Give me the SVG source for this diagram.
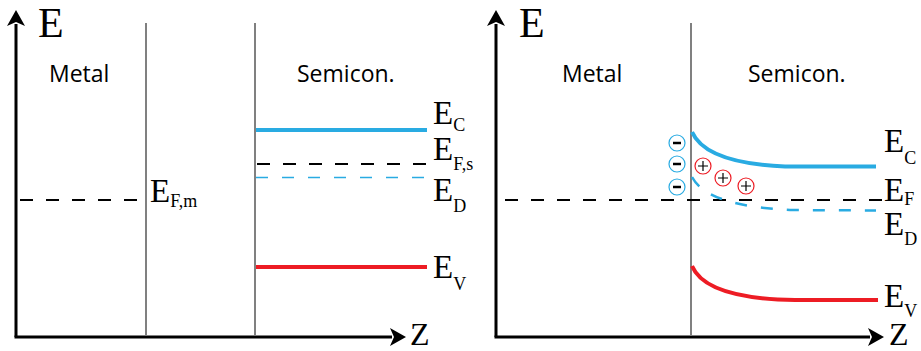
<svg xmlns="http://www.w3.org/2000/svg" width="921" height="351" viewBox="0 0 921 351">
<style>
.axis{stroke:#000;stroke-width:3;fill:none}
.div{stroke:#808080;stroke-width:2;fill:none}
.cb{stroke:#29abe2;stroke-width:4;fill:none}
.vb{stroke:#ed1c24;stroke-width:4;fill:none}
.fd{stroke:#000;stroke-width:2;fill:none;stroke-dasharray:13 13}
.dd{stroke:#29abe2;stroke-width:1.6;fill:none;stroke-dasharray:12 14}
.cd{stroke:#29abe2;stroke-width:2.5;fill:none;stroke-dasharray:12 14}
.ax{font-family:"Liberation Serif","Times New Roman",serif;font-size:42px;fill:#000}
.z{font-family:"Liberation Serif","Times New Roman",serif;font-size:32px;fill:#000}
.lb{font-family:"Liberation Serif","Times New Roman",serif;font-size:33px;fill:#000}
.sb{font-size:18px}
.reg{font-family:"Open Sans","Noto Sans","Liberation Sans",sans-serif;font-size:23px;fill:#000}
.neg{stroke:#29abe2;stroke-width:1.2;fill:#fff}
.pos{stroke:#ed1c24;stroke-width:1.2;fill:#fff}
.ms{stroke:#000;stroke-width:2.5}
.ps{stroke:#000;stroke-width:1.2}
</style>
<defs>
<marker id="ah" viewBox="0 0 16 20" refX="2" refY="10" markerWidth="16" markerHeight="20" markerUnits="userSpaceOnUse" orient="auto">
<path d="M0,1 L16,10 L0,19 L4,10 Z" fill="#000"/>
</marker>
</defs>

<g id="left-panel">
<g id="left-axes">
<path class="axis" d="M16,337 L16,24" marker-end="url(#ah)"/>
<path class="axis" d="M14.5,337 L392,337" marker-end="url(#ah)"/>
<text class="ax" x="38" y="37">E</text>
<text class="z" x="410" y="345">Z</text>
</g>
<g id="left-dividers">
<line class="div" x1="146" y1="23" x2="146" y2="336"/>
<line class="div" x1="255" y1="23" x2="255" y2="336"/>
</g>
<g id="left-metal"><text class="reg" x="49" y="82">Metal</text></g>
<g id="left-semicon"><text class="reg" x="297" y="82">Semicon.</text></g>
<g id="left-levels">
<line class="cb" x1="256" y1="130" x2="427" y2="130"/>
<line class="fd" x1="257" y1="164" x2="427" y2="164"/>
<line class="dd" x1="256" y1="177.5" x2="427" y2="177.5"/>
<line class="vb" x1="256" y1="267" x2="427" y2="267"/>
<line class="fd" x1="20" y1="200" x2="146" y2="200"/>
</g>
<g id="left-labels">
<text class="lb" x="433" y="124">E<tspan class="sb" dy="7">C</tspan></text>
<text class="lb" x="433" y="160">E<tspan class="sb" dy="10">F,s</tspan></text>
<text class="lb" x="433" y="201">E<tspan class="sb" dy="11">D</tspan></text>
<text class="lb" x="433" y="278">E<tspan class="sb" dy="12">V</tspan></text>
<text class="lb" x="150" y="202">E<tspan class="sb" dy="5">F,m</tspan></text>
</g>
</g>

<g id="right-panel">
<g id="right-axes">
<path class="axis" d="M496,337 L496,24" marker-end="url(#ah)"/>
<path class="axis" d="M494.5,337 L870,337" marker-end="url(#ah)"/>
<text class="ax" x="519" y="37">E</text>
<text class="z" x="889" y="345">Z</text>
</g>
<g id="right-divider">
<line class="div" x1="691" y1="23" x2="691" y2="336"/>
</g>
<g id="right-metal"><text class="reg" x="562" y="82">Metal</text></g>
<g id="right-semicon"><text class="reg" x="748" y="82">Semicon.</text></g>
<g id="right-levels">
<path class="fd" d="M505,200 L885,200"/>
<path class="cb" d="M692,132 C700,150 725,164 785,166.5 L876,166.5"/>
<path class="cd" d="M692,177 C701,194 728,207 790,210 L876,210.5"/>
<path class="vb" d="M692,266 C700,285 728,299 795,300 L878,300"/>
</g>
<g id="right-charges">
<g id="neg1"><circle class="neg" cx="677" cy="143" r="8"/><line class="ms" x1="673" y1="143" x2="681" y2="143"/></g>
<g id="neg2"><circle class="neg" cx="677" cy="164" r="8"/><line class="ms" x1="673" y1="164" x2="681" y2="164"/></g>
<g id="neg3"><circle class="neg" cx="677" cy="187" r="8"/><line class="ms" x1="673" y1="187" x2="681" y2="187"/></g>
<g id="pos1"><circle class="pos" cx="703" cy="166" r="8"/><path class="ps" d="M698,166 H708 M703,161 V171"/></g>
<g id="pos2"><circle class="pos" cx="723" cy="178" r="8"/><path class="ps" d="M718,178 H728 M723,173 V183"/></g>
<g id="pos3"><circle class="pos" cx="746" cy="186" r="8"/><path class="ps" d="M741,186 H751 M746,181 V191"/></g>
</g>
<g id="right-labels">
<text class="lb" x="884" y="152">E<tspan class="sb" dy="12">C</tspan></text>
<text class="lb" x="884" y="201">E<tspan class="sb" dy="4">F</tspan></text>
<text class="lb" x="884" y="235">E<tspan class="sb" dy="10">D</tspan></text>
<text class="lb" x="884" y="307">E<tspan class="sb" dy="10">V</tspan></text>
</g>
</g>
</svg>
